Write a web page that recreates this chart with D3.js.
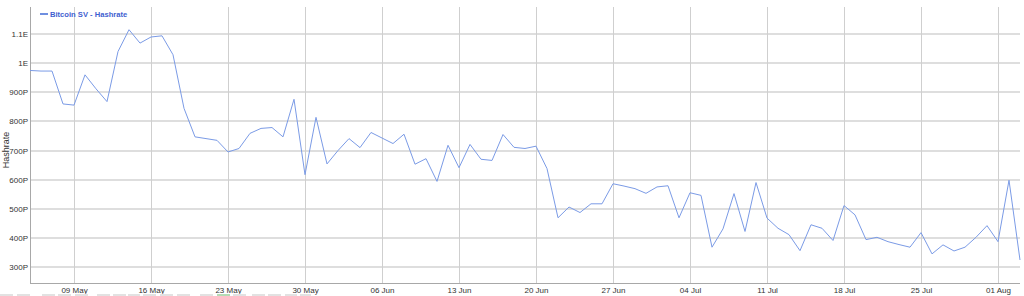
<!DOCTYPE html>
<html><head><meta charset="utf-8">
<script src="https://cdn.jsdelivr.net/npm/d3@7"></script>
<style>body{margin:0;background:#fff;}svg{display:block;font-family:"Liberation Sans",Arial,sans-serif;}</style>
</head><body>
<svg id="c" width="1024" height="296"></svg>
<script>
const startDate = "2021-05-05";
const seriesName = "Bitcoin SV - Hashrate";
const yTitle = "Hashrate";
const hashrate = [
 975,973,973,860,856,960,912,868,1040,1115,1069,1090,1094,1029,845,747,741,735,695,707,759,776,779,747,876,617,814,
 654,700,741,710,762,743,724,756,653,672,594,718,641,721,670,666,755,711,707,715,638,469,506,487,517,517,586,578,569,553,
 575,579,469,555,546,368,431,552,422,590,468,433,411,356,445,433,391,511,479,394,402,387,377,368,418,345,376,355,368,402,442,
 387,598,324
];
const yTickValues = [300,400,500,600,700,800,900,1000,1100];
const yTickLabels = ["300P","400P","500P","600P","700P","800P","900P","1E","1.1E"];
const xTickLabels = ["09 May","16 May","23 May","30 May","06 Jun","13 Jun","20 Jun","27 Jun","04 Jul","11 Jul","18 Jul","25 Jul","01 Aug"];

const parse = d3.timeParse("%Y-%m-%d");
const d0 = parse(startDate);
const data = hashrate.map((v,i)=>({date:d3.timeDay.offset(d0,i), v}));

const L=30, R=1020, T=7, B=283;
const svg = d3.select("#c");
const x = d3.scaleTime().domain(d3.extent(data,d=>d.date)).range([L,R]);
const y = d3.scaleLinear().domain([245,1193]).range([B,T]);
const xTicks = d3.timeWeek.range(d3.timeDay.offset(d0,1), d3.timeDay.offset(data[data.length-1].date,1));

// horizontal grid
svg.append("g").selectAll("line").data(yTickValues).join("line")
  .attr("x1",L).attr("x2",R).attr("y1",d=>Math.round(y(d))).attr("y2",d=>Math.round(y(d)))
  .attr("stroke","#dedede").attr("stroke-width",2);
// vertical grid
svg.append("g").selectAll("line").data(xTicks).join("line")
  .attr("x1",d=>Math.round(x(d))+0.5).attr("x2",d=>Math.round(x(d))+0.5).attr("y1",T).attr("y2",B)
  .attr("stroke","#cfcfcf").attr("stroke-width",1);

// axes
const yAxis = d3.axisLeft(y).tickValues(yTickValues).tickFormat((d,i)=>yTickLabels[i]).tickSize(0).tickPadding(2);
const gy = svg.append("g").attr("transform",`translate(${L},0)`).call(yAxis);
gy.select(".domain").remove();
gy.selectAll("text").attr("fill","#333").style("font-size","8px");

const xAxis = d3.axisBottom(x).tickValues(xTicks).tickFormat((d,i)=>xTickLabels[i]).tickSize(0).tickPadding(4);
const gx = svg.append("g").attr("transform",`translate(0,${B})`).call(xAxis);
gx.select(".domain").remove();
gx.selectAll("text").attr("fill","#333").style("font-size","8px");

svg.append("line").attr("x1",L+0.5).attr("x2",L+0.5).attr("y1",T).attr("y2",B+0.5).attr("stroke","#a8a8a8");
svg.append("line").attr("x1",L).attr("x2",R).attr("y1",B+0.5).attr("y2",B+0.5).attr("stroke","#a8a8a8");

// line
svg.append("path").datum(data)
  .attr("d", d3.line().x(d=>x(d.date)).y(d=>y(d.v)))
  .attr("fill","none").attr("stroke","#7b9be6").attr("stroke-width",1);

// y title
svg.append("text").attr("transform","translate(9,150) rotate(-90)").attr("text-anchor","middle")
  .attr("fill","#333").style("font-size","9px").text(yTitle);

// legend
svg.append("line").attr("x1",40).attr("x2",48).attr("y1",14).attr("y2",14).attr("stroke","#6f8fe0").attr("stroke-width",2);
svg.append("text").attr("x",50).attr("y",17).attr("fill","#3f5fd0").style("font-size","7.6px").style("font-weight","bold").text(seriesName);

// navigator hint strip at bottom
const strip = [[0,13],[17,13],[42,13],[58,13],[75,13],[97,13],[113,13],[128,12],[143,13],[160,13],[177,13],[200,13],[217,13],[233,13],[252,13],[268,13],[285,12],[300,11]];
svg.append("g").selectAll("rect").data(strip).join("rect")
  .attr("x",d=>d[0]).attr("y",294).attr("width",d=>d[1]).attr("height",2)
  .attr("fill",(d,i)=>d[0]===217?"#b5dbb5":"#e2e2e2");
</script>
</body></html>
